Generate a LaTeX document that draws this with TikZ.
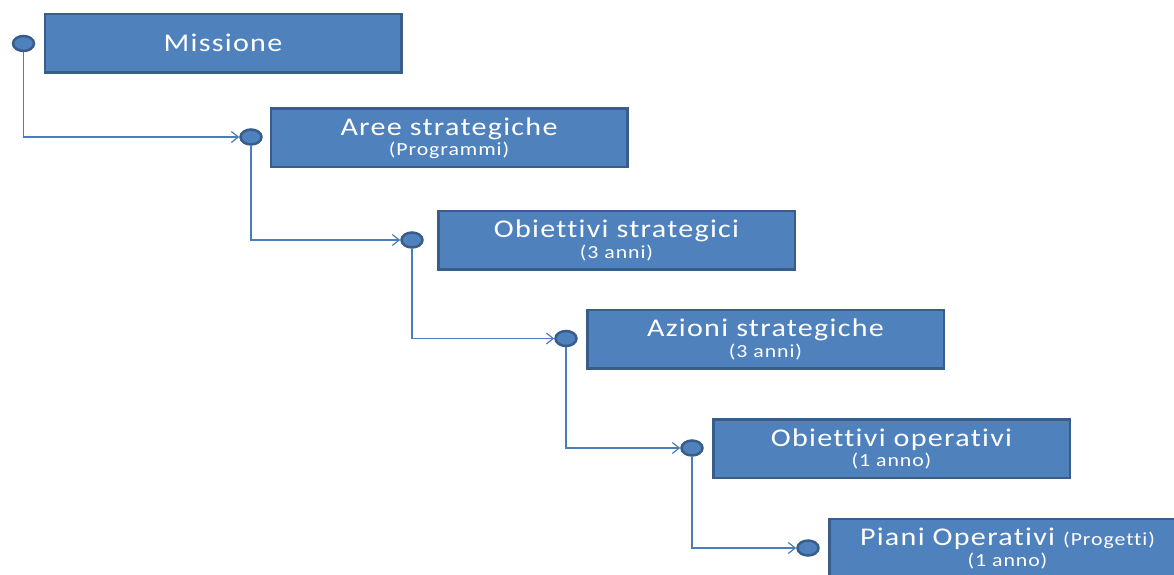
\documentclass[tikz,border=0pt]{standalone}
\usepackage{fontspec}
\setmainfont[FakeStretch=1.18,LetterSpace=5,Ligatures=CommonOff]{Carlito}
\usetikzlibrary{arrows.meta,shapes.geometric}
\definecolor{boxfill}{HTML}{4F81BD}
\definecolor{boxline}{HTML}{385D8A}
\definecolor{connc}{HTML}{4A7EBB}
\newcommand\bigtxt{\fontsize{25.5}{28}\selectfont}
\newcommand\smalltxt{\fontsize{18.5}{21}\selectfont}
\tikzset{
  box/.style={draw=boxline, line width=2.5pt, fill=boxfill, minimum width=356.5pt,
    minimum height=58.5pt, inner sep=0pt},
  ttl/.style={anchor=base, text=white, inner sep=0pt, font=\bigtxt},
  sub/.style={anchor=base, text=white, inner sep=0pt, font=\smalltxt},
  dot/.style={ellipse, draw=boxline, line width=2.5pt, fill=boxfill,
    minimum width=21pt, minimum height=15pt, inner sep=0pt},
  link/.style={draw=connc, line width=1.2pt, -{Straight Barb[length=7pt,width=11pt]}}
}
\begin{document}
\begin{tikzpicture}[x=1pt,y=-1pt]
\useasboundingbox (0,0) rectangle (1174,574);
\clip (0,0) rectangle (1174,574);
\node[box] (b1) at (223,43) {};
\node[box] (b2) at (449,137.5) {};
\node[box] (b3) at (616.5,240) {};
\node[box] (b4) at (765.5,339) {};
\node[box] (b5) at (891.5,448.5) {};
\node[box] (b6) at (1007.5,548) {};
\node[ttl] (t1) at (223,51.5) {Missione};
\node[ttl] (t2) at (449,135) {Aree strategiche};
\node[sub] (s2) at (449,155.5) {(Programmi)};
\node[ttl] (t3) at (616.5,237.5) {Obiettivi strategici};
\node[sub] (s3) at (616.5,258) {(3 anni)};
\node[ttl] (t4) at (765.5,336.5) {Azioni strategiche};
\node[sub] (s4) at (765.5,357) {(3 anni)};
\node[ttl] (t5) at (891.5,446) {Obiettivi operativi};
\node[sub] (s5) at (891.5,466.5) {(1 anno)};
\node[ttl] (t6) at (1007.5,545.5) {Piani Operativi {\smalltxt (Progetti)}};
\node[sub] (s6) at (1007.5,566) {(1 anno)};
\node[dot] (c1) at (23.5,43.5) {};
\node[dot] (c2) at (251,137) {};
\node[dot] (c3) at (412,240) {};
\node[dot] (c4) at (566,338.5) {};
\node[dot] (c5) at (692,448) {};
\node[dot] (c6) at (808,548) {};
\draw[link] (c1.south) |- (c2.west);
\draw[link] (c2.south) |- (c3.west);
\draw[link] (c3.south) |- (c4.west);
\draw[link] (c4.south) |- (c5.west);
\draw[link] (c5.south) |- (c6.west);
\end{tikzpicture}
\end{document}
